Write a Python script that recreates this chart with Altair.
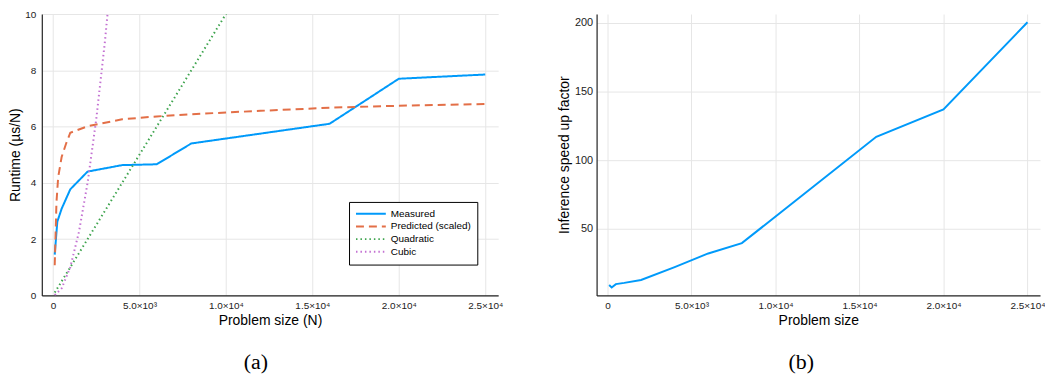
import altair as alt
import pandas as pd

# ---- data ----
measured_n = [100, 250, 500, 1000, 2000, 4000, 6000, 8000, 16000, 20000, 25000]
measured_v = [1.45, 2.62, 3.08, 3.77, 4.40, 4.63, 4.66, 5.40, 6.10, 7.70, 7.85]

predicted_n = [100, 200, 300, 500, 750, 1000, 2000, 4000, 6000, 8000, 12000, 16000, 20000, 25000]
predicted_v = [1.07, 3.3, 4.2, 4.92, 5.38, 5.78, 6.01, 6.26, 6.36, 6.44, 6.56, 6.67, 6.74, 6.80]

quadratic_n = [100, 1000, 2000, 4000, 6000, 8000, 16000, 20000, 25000]
quadratic_v = [0.1, 1.0, 2.0, 4.0, 6.0, 8.0, 16.0, 20.0, 25.0]

cubic_n = [100, 500, 1000, 1500, 2000, 2500, 3000, 3500, 4000]
cubic_v = [0.01, 0.25, 1.0, 2.25, 4.0, 6.25, 9.0, 12.25, 16.0]

speedup_n = [100, 250, 500, 1000, 2000, 4000, 6000, 8000, 16000, 20000, 25000]
speedup_v = [9.2, 7.5, 9.9, 10.8, 12.9, 22.3, 32.2, 39.7, 117.0, 137.0, 200.3]

series_names = ["Measured", "Predicted (scaled)", "Quadratic", "Cubic"]
series_colors = ["#009AFA", "#E36F47", "#3EA44E", "#C371D2"]
series_dash = [[1, 0], [8, 5], [1.5, 3], [1.5, 3]]
series_width = [2, 2, 1.5, 1.5]

x_ticks = [0, 5000, 10000, 15000, 20000, 25000]
x_tick_labels = ["0", "5.0×10³", "1.0×10⁴", "1.5×10⁴", "2.0×10⁴", "2.5×10⁴"]
left_y_ticks = [0, 2, 4, 6, 8, 10]
right_y_ticks = [50, 100, 150, 200]

x_domain = [-647, 25747]
left_y_domain = [0, 10]
right_y_domain = [1.7, 206.3]

# ---- build tables ----
rows = []
for name, ns, vs in zip(series_names,
                        [measured_n, predicted_n, quadratic_n, cubic_n],
                        [measured_v, predicted_v, quadratic_v, cubic_v]):
    for n, v in zip(ns, vs):
        rows.append({"series": name, "N": n, "value": v})
left_df = pd.DataFrame(rows)
right_df = pd.DataFrame({"N": speedup_n, "speedup": speedup_v})

label_map = "{" + ",".join(f"'{t}':'{l}'" for t, l in zip(x_ticks, x_tick_labels)) + "}"
label_expr = f"{label_map}[datum.value + '']"

FONT = "Liberation Sans"

def x_axis(title):
    return alt.Axis(values=x_ticks, labelExpr=label_expr, title=title, ticks=False,
                    labelPadding=5, titlePadding=3, grid=True)

left = alt.Chart(left_df).mark_line(clip=True).encode(
    x=alt.X("N:Q", scale=alt.Scale(domain=x_domain, nice=False, zero=False),
            axis=x_axis("Problem size (N)")),
    y=alt.Y("value:Q", scale=alt.Scale(domain=left_y_domain, nice=False),
            axis=alt.Axis(values=left_y_ticks, title="Runtime (µs/N)", ticks=False,
                          labelPadding=6, titlePadding=2)),
    color=alt.Color("series:N", sort=series_names,
                    scale=alt.Scale(domain=series_names, range=series_colors),
                    legend=alt.Legend(title=None, orient="none", legendX=309, legendY=189,
                                      strokeColor="black", fillColor="white", padding=6,
                                      symbolType="stroke", symbolSize=900, clipHeight=12,
                                      symbolStrokeWidth=1.5, labelFont=FONT,
                                      labelFontSize=10, rowPadding=0.7, cornerRadius=0,
                                      labelOffset=4)),
    strokeDash=alt.StrokeDash("series:N", sort=series_names,
                              scale=alt.Scale(domain=series_names, range=series_dash)),
    strokeWidth=alt.StrokeWidth("series:N",
                                scale=alt.Scale(domain=series_names, range=series_width),
                                legend=None),
    order=alt.Order("N:Q"),
).properties(
    width=459, height=283,
    title=alt.TitleParams("(a)", orient="bottom", anchor="middle", frame="bounds",
                          font="Liberation Serif", fontSize=22, fontWeight="normal",
                          offset=25, color="black"),
)

right = alt.Chart(right_df).mark_line(color="#009AFA", strokeWidth=2).encode(
    x=alt.X("N:Q", scale=alt.Scale(domain=x_domain, nice=False, zero=False),
            axis=x_axis("Problem size")),
    y=alt.Y("speedup:Q", scale=alt.Scale(domain=right_y_domain, nice=False, zero=False),
            axis=alt.Axis(values=right_y_ticks, title="Inference speed up factor", ticks=False,
                          labelPadding=4, titlePadding=3, labelFontSize=11)),
    order=alt.Order("N:Q"),
).properties(
    width=446, height=283,
    title=alt.TitleParams("(b)", orient="bottom", anchor="middle", frame="bounds",
                          font="Liberation Serif", fontSize=22, fontWeight="normal",
                          offset=25, color="black"),
)

chart = alt.hconcat(left, right, spacing=54).properties(
    padding={"left": 0, "top": 0, "right": 0, "bottom": 0}
).configure_view(stroke=None).configure_axis(
    domainColor="#222222", domainWidth=1.2, gridColor="#e6e6e6", gridWidth=1,
    labelFont=FONT, labelFontSize=10, labelColor="#222222",
    titleFont=FONT, titleFontSize=14, titleFontWeight="normal", titleColor="black",
)

chart.save("out.html", embed_options={"renderer": "svg", "actions": False})
